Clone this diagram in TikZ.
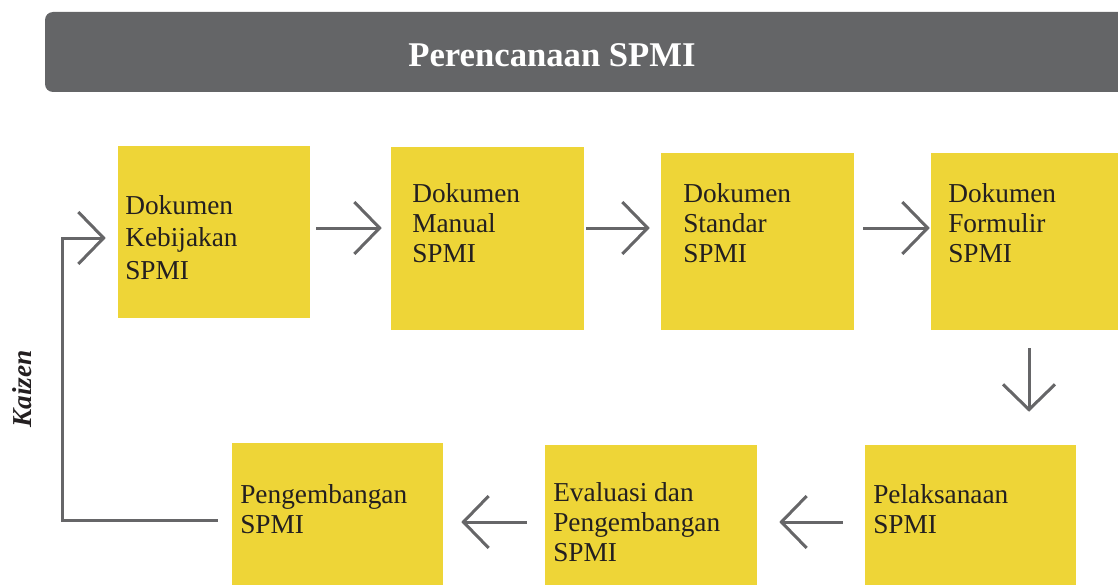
\documentclass[tikz,border=0pt]{standalone}
\usepackage{fontspec}
\setmainfont{Liberation Serif}
\usetikzlibrary{arrows.meta, positioning, calc, fit}
\definecolor{bargray}{RGB}{100,101,103}
\definecolor{boxyellow}{RGB}{238,213,55}
\definecolor{arrowgray}{RGB}{102,102,104}
\definecolor{inkdark}{RGB}{35,31,32}

\begin{document}
\begin{tikzpicture}[x=0.75pt, y=-0.75pt,
  box/.style={fill=boxyellow, inner sep=0pt},
  txt/.style={anchor=north west, inner sep=0pt, align=left, text=inkdark, font=\fontsize{20.5}{22.5}\selectfont},
  flow/.style={draw=arrowgray, line width=2.25pt, -{Straight Barb[length=19pt, width=39pt]}}]
  \useasboundingbox (0,0) rectangle (1118,585);

  \node[fill=bargray, rounded corners=6pt, inner sep=0pt, fit={(45,12) (1140,92)}] (bar) {};
  \node[text=white, font=\bfseries\fontsize{26}{30}\selectfont] (title) at (552,55) {Perencanaan SPMI};

  \node[box, fit={(118,146) (310,318)}] (kebijakan) {};
  \node[box, fit={(391,147) (584,330)}] (manual) {};
  \node[box, fit={(661,153) (854,330)}] (standar) {};
  \node[box, fit={(931,153) (1140,330)}] (formulir) {};
  \node[box, fit={(865,445) (1076,595)}] (pelaksanaan) {};
  \node[box, fit={(545,445) (757,595)}] (evaluasi) {};
  \node[box, fit={(232,443) (443,595)}] (pengembangan) {};

  \node[txt, font=\fontsize{20.5}{24.4}\selectfont] (t1) at (125,195) {Dokumen\\Kebijakan\\SPMI};
  \node[txt] (t2) at (412,183) {Dokumen\\Manual\\SPMI};
  \node[txt] (t3) at (683,183) {Dokumen\\Standar\\SPMI};
  \node[txt] (t4) at (948,183) {Dokumen\\Formulir\\SPMI};
  \node[txt] (t5) at (873,484) {Pelaksanaan\\SPMI};
  \node[txt] (t6) at (553,482) {Evaluasi dan\\Pengembangan\\SPMI};
  \node[txt] (t7) at (240,484) {Pengembangan\\SPMI};

  \node[rotate=90, text=inkdark, font=\bfseries\itshape\fontsize{20.5}{22.5}\selectfont] (kaizen) at (22,389) {Kaizen};

  \coordinate (row1) at (0,228);
  \coordinate (row2) at (0,522);
  \coordinate (col) at (1029,0);
  \draw[flow] ($(kebijakan.east |- row1)+(6,0)$) -- ($(manual.west |- row1)+(-9,0)$);
  \draw[flow] ($(manual.east |- row1)+(2,0)$) -- ($(standar.west |- row1)+(-11,0)$);
  \draw[flow] ($(standar.east |- row1)+(9,0)$) -- ($(formulir.west |- row1)+(-1,0)$);
  \draw[flow] ($(formulir.south -| col)+(0,18)$) -- ($(pelaksanaan.north -| col)+(0,-33)$);
  \draw[flow] ($(pelaksanaan.west |- row2)+(-22,0)$) -- ($(evaluasi.east |- row2)+(22,0)$);
  \draw[flow] ($(evaluasi.west |- row2)+(-18,0)$) -- ($(pengembangan.east |- row2)+(18,0)$);
  \draw[flow] ($(pengembangan.west |- 0,520)+(-14,0)$) -- (62,520) -- (62,238)
    -- ($(kebijakan.west |- 0,238)+(-12,0)$);
\end{tikzpicture}
\end{document}
